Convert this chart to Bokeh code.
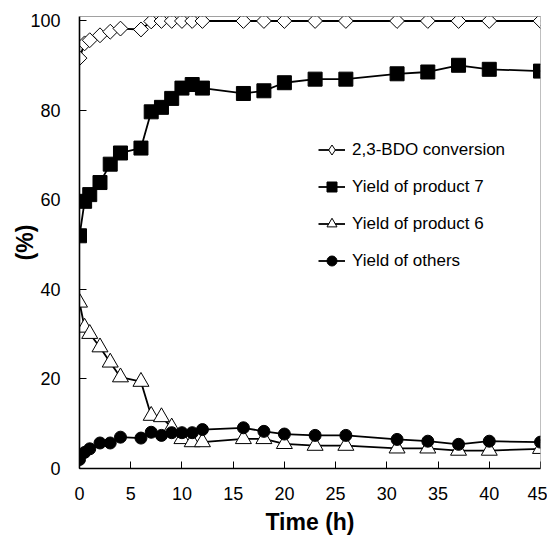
import math
from bokeh.plotting import figure
from bokeh.models import Range1d, Legend, LegendItem, Span, FixedTicker
from bokeh.embed import file_html
from bokeh.resources import INLINE

time_h = [0, 0.5, 1, 2, 3, 4, 6, 7, 8, 9, 10, 11, 12, 16, 18, 20, 23, 26, 31, 34, 37, 40, 45]
conversion = [91.7, 95.0, 95.7, 96.8, 97.6, 98.3, 98.1, 99.9, 100, 100, 100, 100, 100, 100,
              100, 100, 100, 100, 100, 100, 100, 100, 100]
product7 = [52.0, 59.7, 61.2, 63.9, 68.0, 70.5, 71.6, 79.7, 80.7, 82.7, 85.0, 85.8, 85.0, 83.8,
            84.4, 86.2, 87.0, 87.0, 88.2, 88.6, 90.1, 89.2, 88.8]
product6 = [37.1, 31.5, 30.1, 27.1, 23.7, 20.4, 19.4, 11.8, 11.5, 9.2, 6.6, 5.9, 5.9, 6.6,
            6.6, 5.5, 5.1, 5.1, 4.5, 4.5, 4.0, 4.0, 4.4]
others = [2.0, 3.6, 4.4, 5.7, 5.7, 7.0, 6.8, 8.1, 7.4, 8.0, 8.0, 8.0, 8.7, 9.1,
          8.3, 7.7, 7.4, 7.4, 6.5, 6.1, 5.4, 6.1, 5.9]
x_ticks = [0, 5, 10, 15, 20, 25, 30, 35, 40, 45]
y_ticks = [0, 20, 40, 60, 80, 100]
labels = ["2,3-BDO conversion", "Yield of product 7", "Yield of product 6", "Yield of others"]

FONT = "Liberation Sans"

p = figure(width=547, height=538, output_backend="svg", toolbar_location=None,
           x_range=Range1d(0, 45), y_range=Range1d(0, 101),
           min_border_left=79, min_border_right=7, min_border_top=16, min_border_bottom=70)
p.outline_line_color = None
p.xgrid.visible = False
p.ygrid.visible = False
p.background_fill_color = "white"

for ax, ticks in ((p.xaxis, x_ticks), (p.yaxis, y_ticks)):
    ax.ticker = FixedTicker(ticks=ticks)
    ax.major_tick_in = 7
    ax.major_tick_out = 0
    ax.minor_tick_line_color = None
    ax.axis_line_width = 1.6
    ax.axis_line_color = "black"
    ax.major_tick_line_color = "black"
    ax.major_tick_line_width = 1
    ax.major_label_text_font = FONT
    ax.major_label_text_font_size = "18px"
    ax.major_label_text_color = "black"
    ax.axis_label_text_font = FONT
    ax.axis_label_text_font_size = "23px"
    ax.axis_label_text_font_style = "bold"
    ax.axis_label_text_color = "black"

p.xaxis.major_label_standoff = 18
p.yaxis.major_label_standoff = 19
p.xaxis.axis_label = "Time (h)"
p.xaxis.axis_label_standoff = 6
p.yaxis.axis_label = "(%)"
p.yaxis.axis_label_standoff = -11

p.add_layout(Span(location=101, dimension="width", line_color="#444444", line_width=1))
p.add_layout(Span(location=45, dimension="height", line_color="#808080", line_width=1))

LW = 1.8
l1 = p.line(time_h, conversion, line_color="black", line_width=LW)
# small diamonds hidden under the rotated squares; used for the legend sample
s1_leg = p.scatter(time_h, conversion, marker="diamond", size=10,
                   fill_color="white", line_color="black", line_width=1)
s1 = p.scatter(time_h, conversion, marker="square", size=10.5, angle=math.pi / 4,
               fill_color="white", line_color="black", line_width=1)
l2 = p.line(time_h, product7, line_color="black", line_width=LW)
s2 = p.scatter(time_h, product7, marker="square", size=14,
               fill_color="black", line_color="black", line_width=1)
l3 = p.line(time_h, product6, line_color="black", line_width=LW)
s3 = p.scatter(time_h, product6, marker="triangle", size=16,
               fill_color="white", line_color="black", line_width=1)
l4 = p.line(time_h, others, line_color="black", line_width=LW)
s4 = p.scatter(time_h, others, marker="circle", size=12,
               fill_color="black", line_color="black", line_width=1)

legend = Legend(items=[LegendItem(label=labels[0], renderers=[l1, s1_leg]),
                       LegendItem(label=labels[1], renderers=[l2, s2]),
                       LegendItem(label=labels[2], renderers=[l3, s3]),
                       LegendItem(label=labels[3], renderers=[l4, s4])],
                location=(239, 195), padding=0, margin=0, spacing=12,
                glyph_width=27, glyph_height=25, label_standoff=7,
                label_text_font=FONT, label_text_font_size="17px",
                label_text_color="black",
                border_line_color=None, background_fill_alpha=0)
p.add_layout(legend)

open("out.html", "w").write(file_html(p, INLINE))
